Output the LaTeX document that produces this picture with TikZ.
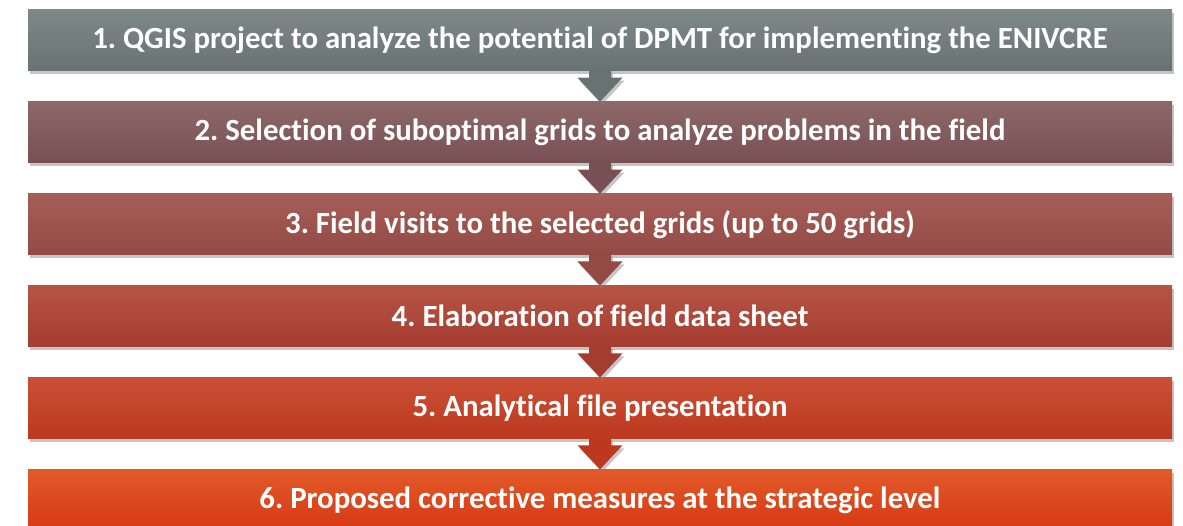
\documentclass[tikz,border=0pt]{standalone}
\usepackage{fontspec}
\setmainfont[Ligatures=NoCommon]{Carlito}
\frenchspacing
\usepackage{tikz}
\usetikzlibrary{positioning, calc, shadows}
\definecolor{barAtop}{RGB}{126,136,136}
\definecolor{barAbot}{RGB}{104,114,114}
\definecolor{barBtop}{RGB}{142,104,104}
\definecolor{barBbot}{RGB}{120,80,84}
\definecolor{barCtop}{RGB}{166,94,88}
\definecolor{barCbot}{RGB}{148,74,68}
\definecolor{barDtop}{RGB}{182,84,68}
\definecolor{barDbot}{RGB}{164,60,48}
\definecolor{barEtop}{RGB}{202,80,54}
\definecolor{barEbot}{RGB}{188,56,30}
\definecolor{barFtop}{RGB}{226,90,40}
\definecolor{barFbot}{RGB}{214,56,20}

\begin{document}
\begin{tikzpicture}[
  x=1pt, y=1pt,
  bar/.style={rectangle, draw=none, minimum width=1144pt, minimum height=61pt,
              text=white, font=\fontsize{30.8}{34}\selectfont\bfseries,
              drop shadow={shadow xshift=2pt, shadow yshift=-3pt, opacity=0.45}},
  arr/.style={draw=none,
              drop shadow={shadow xshift=2pt, shadow yshift=-3pt, opacity=0.45}},
  node distance=30.5pt,
]
\useasboundingbox (0,0) rectangle (1183,525);
\fill[white] (0,0) rectangle (1183,525);

% --- steps ---
\node[bar, top color=barAtop, bottom color=barAbot] (b1) at (600,484.5)
  {1. QGIS project to analyze the potential of DPMT for implementing the ENIVCRE};
\node[bar, top color=barBtop, bottom color=barBbot, below=of b1] (b2)
  {2. Selection of suboptimal grids to analyze problems in the field};
\node[bar, top color=barCtop, bottom color=barCbot, below=of b2] (b3)
  {3. Field visits to the selected grids (up to 50 grids)};
\node[bar, top color=barDtop, bottom color=barDbot, below=of b3] (b4)
  {4. Elaboration of field data sheet};
\node[bar, top color=barEtop, bottom color=barEbot, below=of b4] (b5)
  {5. Analytical file presentation};
\node[bar, top color=barFtop, bottom color=barFbot, below=of b5] (b6)
  {6. Proposed corrective measures at the strategic level};

% --- block arrows between the steps ---
\path[arr, fill=barAbot] ($(b1.south)+(-11,1)$) |- ($(b2.north)+(-22.5,24)$)
  -- (b2.north) -- ($(b2.north)+(22.5,24)$) -| ($(b1.south)+(11,1)$) -- cycle;
\path[arr, fill=barBbot] ($(b2.south)+(-11,1)$) |- ($(b3.north)+(-22.5,24)$)
  -- (b3.north) -- ($(b3.north)+(22.5,24)$) -| ($(b2.south)+(11,1)$) -- cycle;
\path[arr, fill=barCbot] ($(b3.south)+(-11,1)$) |- ($(b4.north)+(-22.5,24)$)
  -- (b4.north) -- ($(b4.north)+(22.5,24)$) -| ($(b3.south)+(11,1)$) -- cycle;
\path[arr, fill=barDbot] ($(b4.south)+(-11,1)$) |- ($(b5.north)+(-22.5,24)$)
  -- (b5.north) -- ($(b5.north)+(22.5,24)$) -| ($(b4.south)+(11,1)$) -- cycle;
\path[arr, fill=barEbot] ($(b5.south)+(-11,1)$) |- ($(b6.north)+(-22.5,24)$)
  -- (b6.north) -- ($(b6.north)+(22.5,24)$) -| ($(b5.south)+(11,1)$) -- cycle;
\end{tikzpicture}
\end{document}
